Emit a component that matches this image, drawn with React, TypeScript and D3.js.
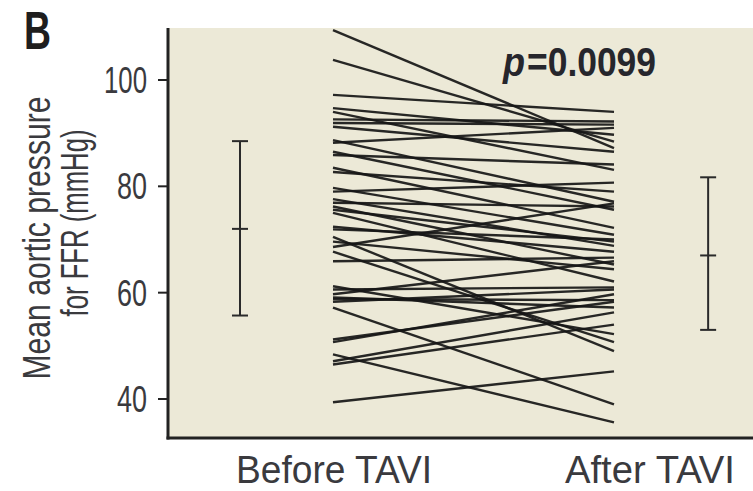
import React from "react";
import * as d3 from "d3";

// Paired patient values (mmHg): before and after TAVI
const beforeValues = [109.4, 103.8, 97.2, 94.7, 94.0, 91.9, 91.2, 88.7, 88.2, 86.5, 85.9, 83.5, 82.7, 79.7, 79.0, 76.9, 76.2, 75.6, 75.0, 72.4, 71.9, 70.5, 69.6, 67.7, 65.9, 61.2, 60.6, 59.7, 59.1, 58.3, 57.2, 51.2, 50.7, 48.4, 47.1, 46.5, 39.4, 92.6, 77.6, 68.6, 58.8];
const afterValues = [87.2, 88.4, 94.0, 89.7, 83.1, 91.6, 86.5, 77.1, 91.0, 75.6, 84.1, 72.2, 79.0, 70.9, 80.7, 76.2, 65.3, 69.6, 62.1, 67.7, 70.0, 49.0, 64.4, 50.7, 66.6, 52.2, 61.0, 65.9, 57.2, 60.6, 39.0, 58.3, 59.7, 35.6, 56.3, 54.0, 45.2, 92.2, 68.8, 76.8, 58.6];

const groups = ["Before TAVI", "After TAVI"];
// mean, lower, upper
const summaryMean = [72, 67];
const summaryLow = [55.7, 53.0];
const summaryHigh = [88.5, 81.7];
const yTicks = [40, 60, 80, 100];
const pLabel = "=0.0099";

const FONT = "'Liberation Sans Narrow', 'Liberation Sans', Arial, sans-serif";

export default function App() {
  const W = 753, H = 491;
  const plotLeft = 168, plotTop = 28, plotBottom = 438;
  const y = d3.scaleLinear().domain([40, 100]).range([399, 80]);
  const x = d3.scaleLinear().domain([0, 1]).range([333, 614]);
  const errX = [x(-0.331), x(1.335)];
  const labelX = [x(0.004), x(1.128)];
  const labelLen = [196, 170];
  const tickLen: Record<number, number> = { 40: 30, 60: 30, 80: 30, 100: 43 };
  const ink = "#161616";
  const textInk = "#3a3a3e";

  return (
    <svg width={W} height={H} style={{ position: "absolute", left: 0, top: 0 }} xmlns="http://www.w3.org/2000/svg">
      <rect x={0} y={0} width={W} height={H} fill="#ffffff" />
      <rect x={plotLeft} y={plotTop} width={W - plotLeft} height={plotBottom - plotTop} fill="#ECE9D7" />

      {/* paired lines */}
      <g stroke={ink} strokeWidth={2.4} strokeLinecap="butt" strokeOpacity={0.92}>
        {beforeValues.map((b, i) => (
          <line key={i} x1={x(0)} y1={y(b)} x2={x(1)} y2={y(afterValues[i])} />
        ))}
      </g>

      {/* error bars */}
      <g stroke="#2a2a2a" strokeWidth={2}>
        {groups.map((g, i) => (
          <g key={g}>
            <line x1={errX[i]} x2={errX[i]} y1={y(summaryHigh[i])} y2={y(summaryLow[i])} />
            <line x1={errX[i] - 8} x2={errX[i] + 8} y1={y(summaryHigh[i])} y2={y(summaryHigh[i])} />
            <line x1={errX[i] - 8} x2={errX[i] + 8} y1={y(summaryLow[i])} y2={y(summaryLow[i])} />
            <line x1={errX[i] - 8} x2={errX[i] + 8} y1={y(summaryMean[i])} y2={y(summaryMean[i])} />
          </g>
        ))}
      </g>

      {/* axes */}
      <line x1={plotLeft} x2={plotLeft} y1={plotTop} y2={plotBottom + 1.5} stroke="#222" strokeWidth={3} />
      <line x1={plotLeft - 1.5} x2={W} y1={plotBottom} y2={plotBottom} stroke="#222" strokeWidth={3} />
      {yTicks.map((t) => (
        <g key={t}>
          <line x1={plotLeft - 10} x2={plotLeft} y1={y(t)} y2={y(t)} stroke="#222" strokeWidth={2} />
          <text x={147} y={y(t) + 13} textAnchor="end" fontFamily={FONT} fontSize={37} fill={textInk}
            textLength={tickLen[t]} lengthAdjust="spacingAndGlyphs">{t}</text>
        </g>
      ))}

      {/* category labels */}
      {groups.map((g, i) => (
        <text key={g} x={labelX[i] - labelLen[i] / 2} y={483} fontFamily={FONT} fontSize={39} fill={textInk}
          textLength={labelLen[i]} lengthAdjust="spacingAndGlyphs">{g}</text>
      ))}

      {/* y axis title */}
      <text transform="translate(50,238) rotate(-90)" textAnchor="middle" fontFamily={FONT} fontSize={39} fill={textInk}
        textLength={283} lengthAdjust="spacingAndGlyphs">Mean aortic pressure</text>
      <text transform="translate(88,223) rotate(-90)" textAnchor="middle" fontFamily={FONT} fontSize={39} fill={textInk}
        textLength={187} lengthAdjust="spacingAndGlyphs">for FFR (mmHg)</text>

      {/* p value */}
      <text x={503} y={76} fontFamily={FONT} fontSize={40} fontWeight="bold" fontStyle="italic" fill="#26262c"
        textLength={22} lengthAdjust="spacingAndGlyphs">p</text>
      <text x={527} y={76} fontFamily={FONT} fontSize={40} fontWeight="bold" fill="#26262c"
        textLength={129} lengthAdjust="spacingAndGlyphs">{pLabel}</text>

      {/* panel letter */}
      <text x={24} y={49} fontFamily={FONT} fontSize={54} fontWeight="bold" fill="#1e1e1e"
        textLength={27} lengthAdjust="spacingAndGlyphs">B</text>
    </svg>
  );
}
